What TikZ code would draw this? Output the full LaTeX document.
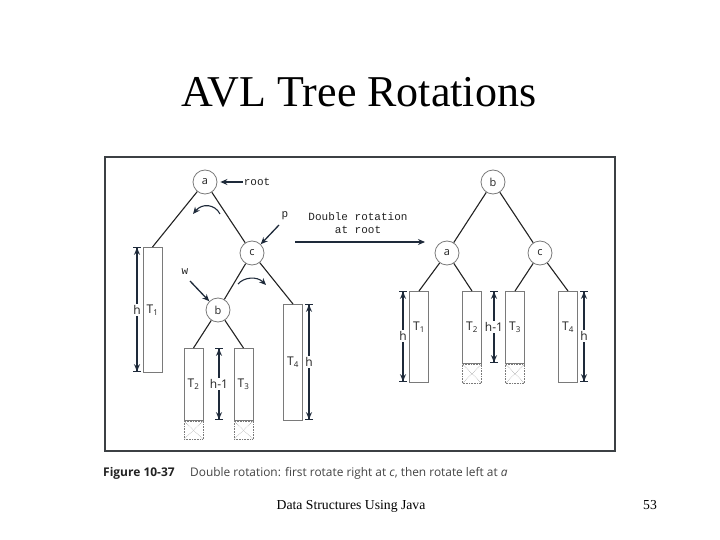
\documentclass[tikz,border=0pt]{standalone}
\usepackage{fontspec}
\setmainfont{Liberation Serif}
\setsansfont{Open Sans}
\setmonofont{Liberation Mono}
\usetikzlibrary{arrows.meta,positioning}
\definecolor{ink}{HTML}{222222}
\definecolor{navy}{HTML}{1E2A3A}
\definecolor{boxgray}{HTML}{7A7A7A}
\definecolor{framegray}{HTML}{3C4044}
\tikzset{
  vert/.style={circle, draw=boxgray, line width=0.8pt, minimum size=24pt, inner sep=0pt, font=\sffamily\fontsize{11}{13}\selectfont, text=ink},
  sub/.style={draw=boxgray, line width=0.9pt, minimum width=19pt, inner sep=0pt},
  ghost/.style={draw=boxgray, densely dotted, line width=0.6pt, minimum width=19pt, minimum height=18pt, inner sep=0pt,
    path picture={\draw[boxgray!80, line width=0.5pt] (path picture bounding box.north west) -- (path picture bounding box.south east)
      (path picture bounding box.north east) -- (path picture bounding box.south west);}},
  edge/.style={draw=ink, line width=1.1pt},
  ptr/.style={draw=navy, line width=1.3pt, -{Stealth[length=7pt,width=6pt]}},
  hgt/.style={draw=navy, line width=1.2pt, -{Stealth[length=7pt,width=6pt]Bar[width=8pt,line width=0.8pt]}},
  lab/.style={font=\sffamily\fontsize{12}{14}\selectfont, text=ink, inner sep=1.5pt},
  code/.style={font=\ttfamily\fontsize{11}{13}\selectfont, text=ink, align=center, inner sep=1pt}
}
\begin{document}
\begin{tikzpicture}[x=1pt, y=-1pt]
  \useasboundingbox (0,0) rectangle (720,540);

  \node[font=\fontsize{44}{50}\selectfont, anchor=base] (title) at (359,107) {AVL Tree Rotations};
  \draw[framegray, line width=1.6pt] (105,157) rectangle (615,451);

  % tree before the rotation
  \node[vert] (a1) at (205,182) {a};
  \node[vert] (c1) at (252,253) {c};
  \node[vert] (b1) at (218,310) {b};
  \node[sub, minimum height=125pt, anchor=north] (t1L) at (152.5,247) {};
  \node[sub, minimum height=116pt, anchor=north] (t4L) at (293,304) {};
  \node[sub, minimum height=72pt, anchor=north] (t2L) at (193.5,348) {};
  \node[sub, minimum height=72pt, anchor=north] (t3L) at (243.5,348) {};
  \node[ghost, anchor=north] (g2L) at (t2L.south) {};
  \node[ghost, anchor=north] (g3L) at (t3L.south) {};

  \draw[edge] (a1) -- (t1L.north);
  \draw[edge] (a1) -- (c1);
  \draw[edge] (c1) -- (b1);
  \draw[edge] (c1) -- (t4L.north);
  \draw[edge] (b1) -- (t2L.north);
  \draw[edge] (b1) -- (t3L.north);

  \node[lab] at (t1L |- 0,310) {T\textsubscript{1}};
  \node[lab] at (t2L |- 0,384) {T\textsubscript{2}};
  \node[lab] at (t3L |- 0,384) {T\textsubscript{3}};
  \node[lab] at (t4L |- 0,362) {T\textsubscript{4}};

  % heights
  \node[lab] (h1L) at (137,310) {h};
  \coordinate (h1Ltop) at (137,247); \coordinate (h1Lbot) at (137,372);
  \draw[hgt] (h1L) -- (h1Ltop); \draw[hgt] (h1L) -- (h1Lbot);
  \node[lab] (h2L) at (219,384) {h-1};
  \coordinate (h2Ltop) at (219,348); \coordinate (h2Lbot) at (219,420);
  \draw[hgt] (h2L) -- (h2Ltop); \draw[hgt] (h2L) -- (h2Lbot);
  \node[lab] (h4L) at (309,362) {h};
  \coordinate (h4Ltop) at (309,304); \coordinate (h4Lbot) at (309,420);
  \draw[hgt] (h4L) -- (h4Ltop); \draw[hgt] (h4L) -- (h4Lbot);

  % pointers and rotation marks
  \node[code] (rootlab) at (257,182) {root};
  \draw[ptr, shorten >=3pt] (rootlab) -- (a1);
  \node[code] (plab) at (285,216) {p};
  \coordinate (ptail) at (279,225);
  \draw[ptr] (ptail) -- (c1.north east);
  \node[code] (wlab) at (185,272) {w};
  \coordinate (wtail) at (190,281);
  \draw[ptr] (wtail) -- (b1.north west);
  \coordinate (r1s) at (220,214); \coordinate (r1e) at (193,214);
  \draw[ptr, line width=1.1pt] (r1s) .. controls (215,204) and (202,203) .. (r1e);
  \coordinate (r2s) at (238,284); \coordinate (r2e) at (266,285);
  \draw[ptr, line width=1.1pt] (r2s) .. controls (244,277) and (257,276) .. (r2e);

  % the move
  \node[code] (move) at (358,223) {Double rotation\\at root};
  \coordinate (mvs) at (295,242); \coordinate (mve) at (425,242);
  \draw[ptr] (mvs) -- (mve);

  % tree after the rotation
  \node[vert] (b2) at (493,182) {b};
  \node[vert] (a2) at (447,253) {a};
  \node[vert] (c2) at (540,253) {c};
  \node[sub, minimum height=91pt, anchor=north] (t1R) at (419,291) {};
  \node[sub, minimum height=72pt, anchor=north] (t2R) at (472,291) {};
  \node[sub, minimum height=72pt, anchor=north] (t3R) at (515,291) {};
  \node[sub, minimum height=91pt, anchor=north] (t4R) at (568,291) {};
  \node[ghost, minimum height=19pt, anchor=north] (g2R) at (t2R.south) {};
  \node[ghost, minimum height=19pt, anchor=north] (g3R) at (t3R.south) {};

  \draw[edge] (b2) -- (a2);
  \draw[edge] (b2) -- (c2);
  \draw[edge] (a2) -- (t1R.north);
  \draw[edge] (a2) -- (t2R.north);
  \draw[edge] (c2) -- (t3R.north);
  \draw[edge] (c2) -- (t4R.north);

  \node[lab] at (t1R |- 0,327) {T\textsubscript{1}};
  \node[lab] at (t2R |- 0,327) {T\textsubscript{2}};
  \node[lab] at (t3R |- 0,327) {T\textsubscript{3}};
  \node[lab] at (t4R |- 0,327) {T\textsubscript{4}};

  \node[lab] (h1R) at (403,336) {h};
  \coordinate (h1Rtop) at (403,291); \coordinate (h1Rbot) at (403,382);
  \draw[hgt] (h1R) -- (h1Rtop); \draw[hgt] (h1R) -- (h1Rbot);
  \node[lab] (h2R) at (494,327) {h-1};
  \coordinate (h2Rtop) at (494,291); \coordinate (h2Rbot) at (494,363);
  \draw[hgt] (h2R) -- (h2Rtop); \draw[hgt] (h2R) -- (h2Rbot);
  \node[lab] (h4R) at (584,336) {h};
  \coordinate (h4Rtop) at (584,291); \coordinate (h4Rbot) at (584,382);
  \draw[hgt] (h4R) -- (h4Rtop); \draw[hgt] (h4R) -- (h4Rbot);

  % caption and footer
  \node[font=\sffamily\bfseries\fontsize{12}{14}\selectfont, text=ink, anchor=base west, inner sep=0pt] (fig) at (103,476) {Figure 10-37};
  \node[font=\sffamily\fontsize{11.9}{14}\selectfont, text=ink!85, anchor=base west, inner sep=0pt] (cap) at (190,476)
    {Double rotation: first rotate right at \textit{c}, then rotate left at \textit{a}};
  \node[font=\fontsize{13.7}{16}\selectfont, anchor=base] (foot) at (351,509) {Data Structures Using Java};
  \node[font=\fontsize{13.7}{16}\selectfont, anchor=base] (page) at (650,509) {53};
\end{tikzpicture}
\end{document}
